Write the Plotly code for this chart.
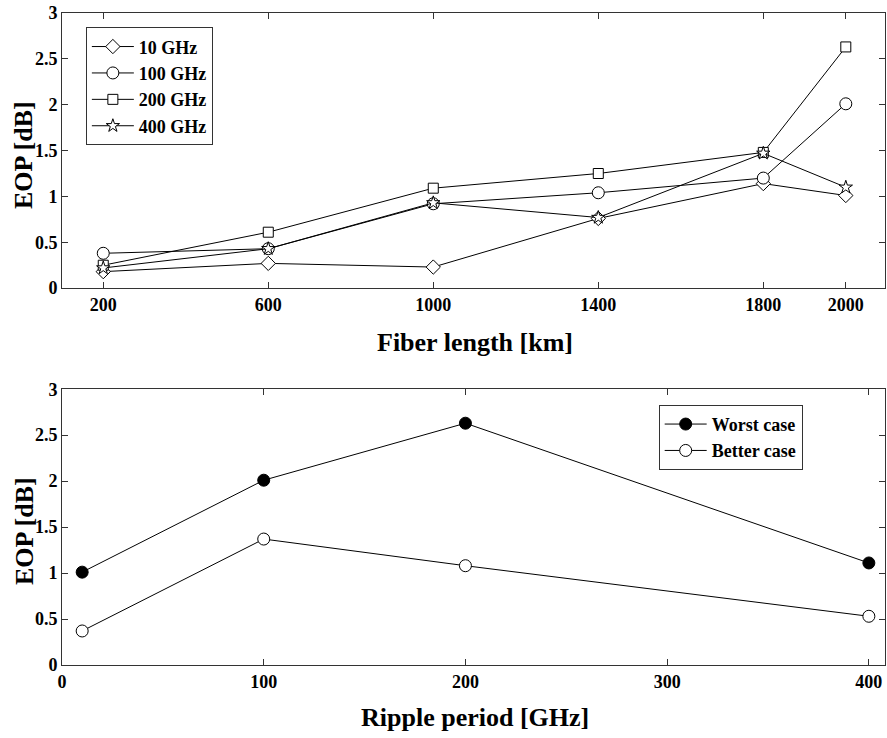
import plotly.graph_objects as go

# ---- data ----
fiber_length = [200, 600, 1000, 1400, 1800, 2000]
eop_10ghz = [0.18, 0.27, 0.23, 0.76, 1.14, 1.01]
eop_100ghz = [0.38, 0.43, 0.92, 1.04, 1.20, 2.01]
eop_200ghz = [0.25, 0.61, 1.09, 1.25, 1.48, 2.63]
eop_400ghz = [0.22, 0.43, 0.93, 0.77, 1.47, 1.10]

ripple_period = [10, 100, 200, 400]
eop_worst = [1.01, 2.01, 2.63, 1.11]
eop_better = [0.37, 1.37, 1.08, 0.53]

y_ticks = [0, 0.5, 1, 1.5, 2, 2.5, 3]
y_ticktext = ["0", "0.5", "1", "1.5", "2", "2.5", "3"]
x1_ticks = [200, 600, 1000, 1400, 1800, 2000]
x2_ticks = [0, 100, 200, 300, 400]

FONT = "Liberation Serif"

fig = go.Figure()

top_series = [
    ("10 GHz", eop_10ghz, "diamond", 11),
    ("100 GHz", eop_100ghz, "circle", 12),
    ("200 GHz", eop_200ghz, "square", 10),
    ("400 GHz", eop_400ghz, "star", 10),
]
for name, ys, sym, sz in top_series:
    fig.add_trace(go.Scatter(
        x=fiber_length, y=ys, name=name, mode="lines+markers",
        line=dict(color="black", width=1),
        marker=dict(symbol=sym, size=sz, color="white",
                    line=dict(color="black", width=1)),
        xaxis="x", yaxis="y", legend="legend",
    ))

fig.add_trace(go.Scatter(
    x=ripple_period, y=eop_worst, name="Worst case", mode="lines+markers",
    line=dict(color="black", width=1),
    marker=dict(symbol="circle", size=12, color="black",
                line=dict(color="black", width=1)),
    xaxis="x2", yaxis="y2", legend="legend2",
))
fig.add_trace(go.Scatter(
    x=ripple_period, y=eop_better, name="Better case", mode="lines+markers",
    line=dict(color="black", width=1),
    marker=dict(symbol="circle", size=12, color="white",
                line=dict(color="black", width=1)),
    xaxis="x2", yaxis="y2", legend="legend2",
))

axis_common = dict(
    showline=True, linecolor="#333", linewidth=1, mirror="ticks",
    ticks="inside", ticklen=6, tickcolor="#333", showgrid=False, zeroline=False,
    tickfont=dict(family=FONT, size=18, color="black", weight="bold"),
)

legend_font = dict(family=FONT, size=18, color="black", weight="bold")

fig.update_layout(
    width=887, height=738,
    margin=dict(l=62, r=2, t=13, b=73),
    paper_bgcolor="white", plot_bgcolor="white",
    font=dict(family=FONT, color="black"),
    showlegend=True,
    xaxis=dict(domain=[0, 1], range=[100, 2095], tickvals=x1_ticks,
               anchor="y", **axis_common),
    yaxis=dict(domain=[0.578, 1], range=[0, 3], tickvals=y_ticks,
               ticktext=y_ticktext, anchor="x", **axis_common),
    xaxis2=dict(domain=[0, 1], range=[0, 408], tickvals=x2_ticks,
                anchor="y2", **axis_common),
    yaxis2=dict(domain=[0, 0.423], range=[0, 3], tickvals=y_ticks,
                ticktext=y_ticktext, anchor="x2", **axis_common),
    legend=dict(x=0.029, y=0.978, xanchor="left", yanchor="top",
                bgcolor="white", bordercolor="#333", borderwidth=1,
                font=legend_font, tracegroupgap=0, itemwidth=42),
    legend2=dict(x=0.725, y=0.399, xanchor="left", yanchor="top",
                 bgcolor="white", bordercolor="#333", borderwidth=1,
                 font=legend_font, tracegroupgap=0, itemwidth=42),
)

# axis titles as annotations placed in pixel-based paper coords
W, H = 887, 738
l, r, t, b = 62, 2, 13, 73
pw, ph = W - l - r, H - t - b

def px(xp):
    return (xp - l) / pw

def py(yp):
    return (H - b - yp) / ph

titles = [
    ("EOP [dB]", 24, 155, -90),
    ("EOP [dB]", 24, 531, -90),
    ("Fiber length [km]", 475, 342, 0),
    ("Ripple period [GHz]", 475, 717, 0),
]
for txt, xp, yp, ang in titles:
    fig.add_annotation(text="<b>" + txt + "</b>", x=px(xp), y=py(yp),
                       xref="paper", yref="paper", showarrow=False,
                       textangle=ang, xanchor="center", yanchor="middle",
                       font=dict(size=26, family=FONT, color="black"))

fig.write_html("out.html")
